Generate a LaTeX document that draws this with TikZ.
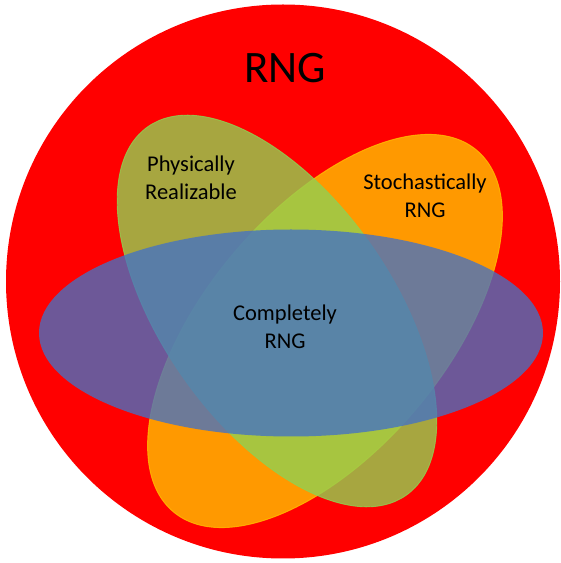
\documentclass[tikz,border=0pt]{standalone}
\usepackage{fontspec}
\setmainfont{Carlito}
\definecolor{rngred}{HTML}{FF0000}
\definecolor{stochorange}{HTML}{FFC000}
\definecolor{physgreen}{HTML}{92D050}
\definecolor{complblue}{HTML}{4472C4}

\begin{document}
\begin{tikzpicture}[x=1pt, y=1pt,
    label/.style={align=center, text=black, font=\fontsize{22.5}{28}\selectfont}]
        \useasboundingbox (0,0) rectangle (561,563);

        % Outer set
        \fill[rngred] (283,281.5) circle (277);
        \node[font=\fontsize{45}{50}\selectfont] (rng) at (285,494.5) {RNG};

        % Stochastically RNG
        \filldraw[stochorange, opacity=0.8, line width=0.9pt] (325,232) ellipse [x radius=236, y radius=120, rotate=50];

        % Physically realizable
        \filldraw[physgreen, opacity=0.8, line width=0.9pt] (277,252) ellipse [x radius=225, y radius=115, rotate=-55];

        % Completely RNG
        \fill[complblue, opacity=0.78] (291,230) ellipse [x radius=252, y radius=103.5];

        % Set labels
        \node[label] (phys) at (191,385) {Physically\\Realizable};
        \node[label] (stoch) at (425,367) {Stochastically\\RNG};
        \node[label] (compl) at (285,236) {Completely\\RNG};

    \end{tikzpicture}
\end{document}
